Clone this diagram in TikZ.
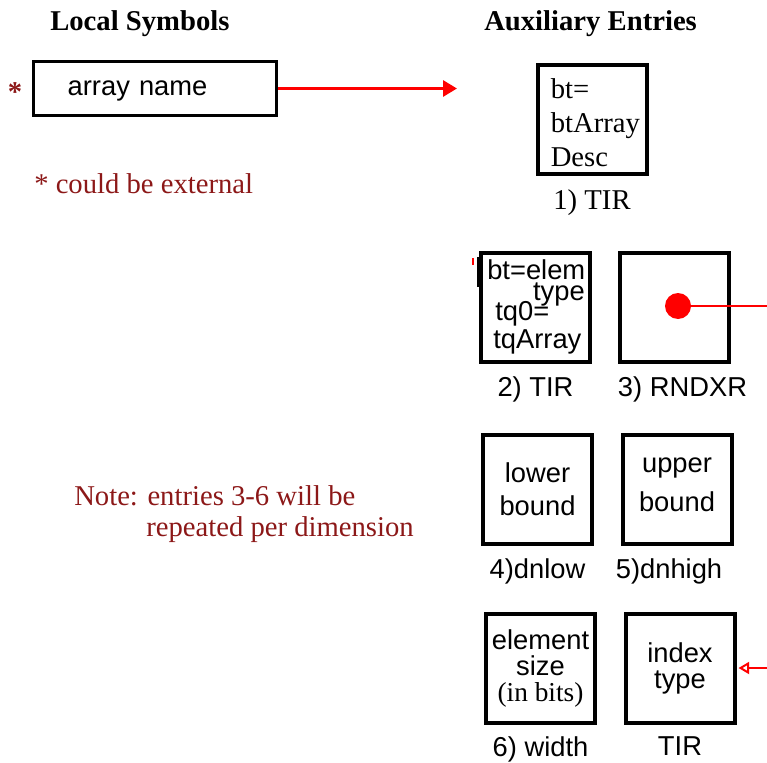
\documentclass[tikz,border=0pt]{standalone}
\usepackage{fontspec}
\setmainfont{Liberation Serif}
\setsansfont{Liberation Sans}
\usetikzlibrary{positioning,arrows.meta}

\definecolor{noteRed}{RGB}{140,24,24}

\tikzset{
  entry/.style={draw, line width=3pt, minimum size=81.75pt, inner sep=0pt},
  symbox/.style={draw, line width=2.3pt, minimum height=40.5pt, text width=131pt, text depth=0pt,
    inner xsep=25.5pt, align=left, font=\sffamily\fontsize{20.5}{24}\selectfont},
  serif/.style={font=\rmfamily\fontsize{21.5}{25.5}\selectfont, inner sep=0pt},
  sans/.style={font=\sffamily\fontsize{20.5}{24}\selectfont, inner sep=0pt},
  head/.style={font=\rmfamily\bfseries\fontsize{21.5}{25}\selectfont, inner sep=0pt},
  note/.style={serif, text=noteRed},
  redline/.style={draw=red, line width=2.2pt},
}

\begin{document}
\begin{tikzpicture}[x=0.75pt, y=-0.75pt]
  % --- page frame (pixel units, y pointing down) ---
  \useasboundingbox (0,0) rectangle (767,763);

  % --- headings ---
  \node[head, anchor=base west] (lochead) at (50,31) {Local Symbols};
  \node[head, anchor=base west] (auxhead) at (484,31) {Auxiliary Entries};

  % --- local symbol and its pointer ---
  \node[symbox] (arr) at (155,88.5) {array name};
  \node[note, font=\rmfamily\bfseries\fontsize{21.5}{25}\selectfont] (star) at (15,92) {*};
  \coordinate (arrtip) at (457,87);
  \draw[redline, -{Triangle[length=10.5pt,width=12pt]}] (arr.east) -- (arr.east -| arrtip);
  \node[note, anchor=base west] (ext) at (34,193) {* could be external};

  % --- 1) TIR ---
  \node[entry] (tir1) at (592,119.5) {};
  \node[serif, anchor=west, align=left] (tir1txt) at ([xshift=11.25pt,yshift=-2.25pt]tir1.west) {bt=\\btArray\\Desc};
  \node[serif, below=10pt of tir1] (tir1lab) {1) TIR};

  % --- 2) TIR ---
  \node[entry] (tir2) at (535.5,307.5) {};
  \draw[line width=3.5pt] (479.5,257) -- (479.5,287);
  \node[sans, anchor=base west] (bt) at (487,279) {bt=elem};
  \node[sans, anchor=base east] (btb) at (585,300) {type};
  \node[sans, anchor=base west] (tq) at (495,320) {tq0=};
  \node[sans, anchor=base west] (tqb) at (493,348) {tqArray};
  \draw[red, line width=1.5pt] (473,258) -- (473,265);
  \node[sans, below=9pt of tir2] (tir2lab) {2) TIR};

  % --- 3) RNDXR with its pointer ---
  \node[entry] (rndxr) at (674.5,307.5) {};
  \node[circle, fill=red, minimum size=19.5pt, inner sep=0pt] (dot) at (678,306) {};
  \coordinate (rndout) at (767,306);
  \draw[red, line width=1.5pt] (dot) -- (rndout);
  \node[sans, below=9pt of rndxr, xshift=6pt] (rndxrlab) {3) RNDXR};

  % --- entries 4-6 and the index type ---
  \foreach \n/\cx/\cy/\bs/\dy/\dx/\txt/\lab in {
      dnlow/537.5/489.5/24.75/0/0/{lower\\bound}/{4)dnlow},
      dnhigh/677/489.5/29/3.4/-6/{upper\\bound}/{5)dnhigh},
      width/540.5/668/19.5/0/0/{element\\size\\{\rmfamily(in bits)}}/{6) width},
      tirb/680/668/19.5/0/0/{index\\type}/TIR} {
    \node[entry] (\n) at (\cx,\cy) {};
    \node[sans, font=\sffamily\fontsize{20.5}{\bs}\selectfont, align=center]
      (\n-txt) at ([yshift=\dy pt]\n.center) {\txt};
    \node[sans, below=9pt of \n, xshift=\dx pt] (\n-lab) {\lab};
  }
  \coordinate (tirin) at (767,668);
  \draw[red, line width=1.5pt, shorten >=1.5pt, -{Triangle[open,length=8pt,width=9pt]}] (tirin) -- (tirb.east);

  % --- note ---
  \node[note, anchor=base west] (note1) at (74,505) {Note: entries 3-6 will be};
  \node[note, anchor=base west] (note2) at (146,536) {repeated per dimension};
\end{tikzpicture}
\end{document}
